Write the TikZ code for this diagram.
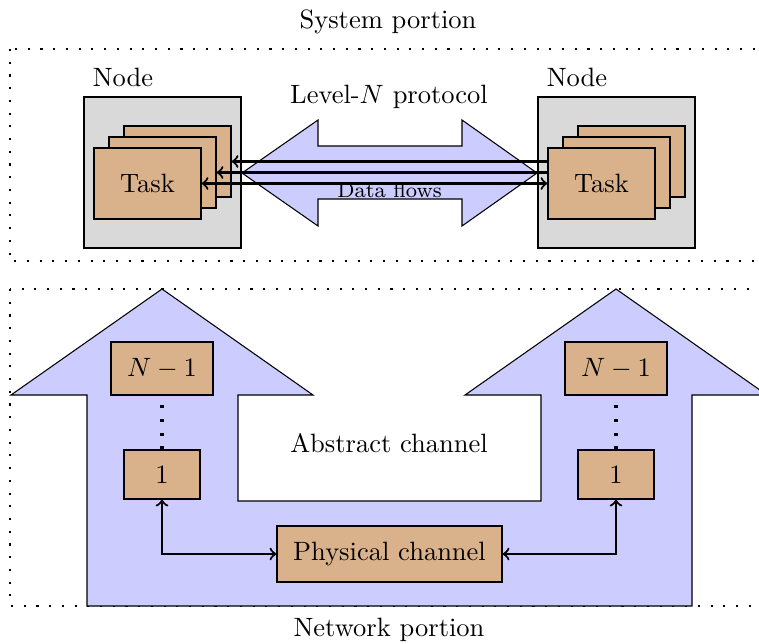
\documentclass[tikz,border=0pt]{standalone}
\begin{document}
\begin{tikzpicture}[
  x=0.3774pt, y=-0.3774pt,
  portion/.style={thick, loosely dotted},
  bigarrow/.style={draw, fill=blue!20},
  hostbox/.style={draw, fill=gray!30, inner sep=0pt,
    minimum width=157*0.3774pt, minimum height=151*0.3774pt},
  taskbox/.style={draw, fill=brown!60, inner sep=0pt,
    minimum width=107*0.3774pt, minimum height=71*0.3774pt},
  layerbox/.style={draw, fill=brown!60, inner sep=0pt},
  flow/.style={thick},
  link/.style={thick, <->},
  layerdots/.style={very thick, loosely dotted},
]
\useasboundingbox (0,0) rectangle (759,643);
\clip (0,0) rectangle (759,643);

% ---------- system portion ----------
\draw[portion] (10,49) rectangle (800,261);
\node (systitle) at (388,22) {System portion};

% hosts with their stacked tasks
\node[hostbox] (lhost) at (162.5,172.5) {};
\node[anchor=south west] (lhostlbl) at (lhost.north west) {Node};
\node[taskbox] (lback)  at (177.5,161.5) {};
\node[taskbox] (lmid)   at (162.5,172.5) {};
\node[taskbox] (lfront) at (147.5,183.5) {Task};

\node[hostbox] (rhost) at (616.5,172.5) {};
\node[anchor=south west] (rhostlbl) at (rhost.north west) {Node};
\node[taskbox] (rback)  at (631.5,161.5) {};
\node[taskbox] (rmid)   at (616.5,172.5) {};
\node[taskbox] (rfront) at (601.5,183.5) {Task};

% level-N protocol double arrow
\draw[bigarrow] (242,173) -- (318,120) -- (318,146) -- (462,146) -- (462,120)
  -- (537,173) -- (462,226) -- (462,199) -- (318,199) -- (318,226) -- cycle;
\node (protolbl) at (389,97) {Level-$N$ protocol};

% data flows between tasks
\draw[flow, ->] (rfront.west |- lback.east) -- (lback.east);
\draw[flow, ->] (rfront.west |- lmid.east) -- (lmid.east);
\draw[flow, <->] (lfront.east) -- (rfront.west);
\node[font=\footnotesize] (flowlbl) at (389.5,190) {Data flows};

% ---------- network portion ----------
\draw[portion] (10,289) rectangle (800,606);
\node (nettitle) at (389,630) {Network portion};

% the two protocol stacks joined through the channel
\draw[bigarrow] (162,289) -- (313,395) -- (238,395) -- (238,501) -- (541,501)
  -- (541,395) -- (465,395) -- (616,289) -- (767,395) -- (692,395)
  -- (692,606) -- (87,606) -- (87,395) -- (11,395) -- cycle;
\node (abstract) at (389,443) {Abstract channel};

\node[layerbox, minimum width=102*0.3774pt, minimum height=53*0.3774pt]
  (ltop) at (162,368.5) {$N-1$};
\node[layerbox, minimum width=76*0.3774pt, minimum height=49*0.3774pt]
  (lone) at (162,474.5) {1};
\node[layerbox, minimum width=102*0.3774pt, minimum height=53*0.3774pt]
  (rtop) at (616,368.5) {$N-1$};
\node[layerbox, minimum width=76*0.3774pt, minimum height=49*0.3774pt]
  (rone) at (616,474.5) {1};

\draw[layerdots] (lone.north) -- (ltop.south);
\draw[layerdots] (rone.north) -- (rtop.south);

\node[layerbox, minimum width=225*0.3774pt, minimum height=56*0.3774pt]
  (phys) at (389.5,554) {Physical channel};

\draw[link] (lone.south) |- (phys.west);
\draw[link] (phys.east) -| (rone.south);
\end{tikzpicture}
\end{document}
